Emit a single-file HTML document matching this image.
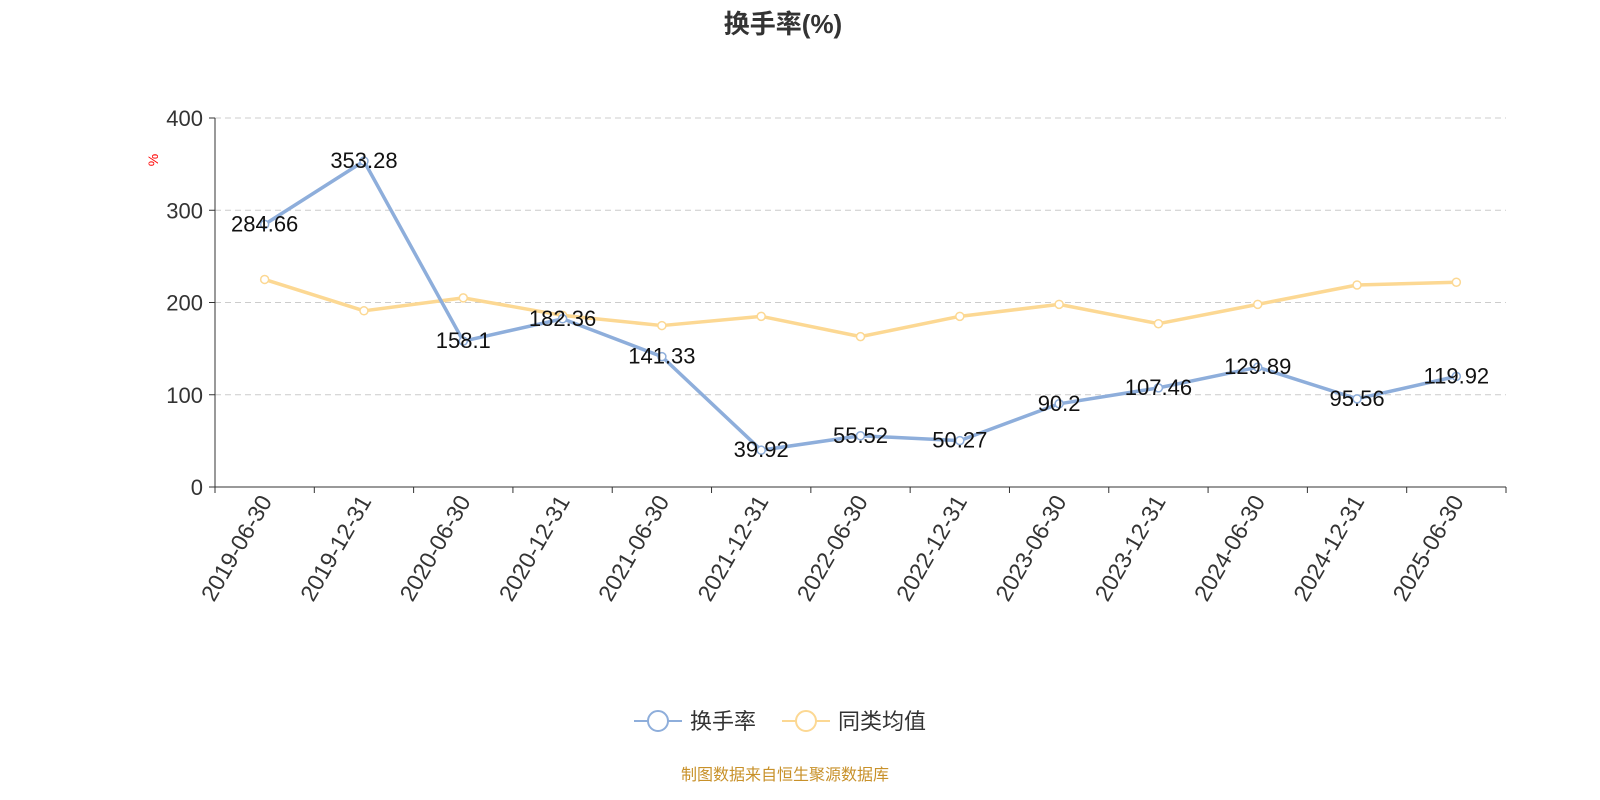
<!DOCTYPE html>
<html><head><meta charset="utf-8"><style>
body{margin:0;background:#fff;font-family:"Liberation Sans","Noto Sans CJK SC",sans-serif;}
</style></head><body>
<svg id="chart" width="1600" height="800" xmlns="http://www.w3.org/2000/svg" style="display:block">
<text x="783" y="33" text-anchor="middle" font-size="26" font-weight="bold" fill="#333" font-family="Liberation Sans,Noto Sans CJK SC,sans-serif">换手率(%)</text>
<text transform="translate(158,160) rotate(-90)" text-anchor="middle" font-size="14" fill="red">%</text>
<g id="grid"></g><g id="axes"></g><g id="series"></g>
<g>
<g>
<line x1="634" y1="721" x2="682" y2="721" stroke="#8eaedb" stroke-width="2"/>
<circle cx="658" cy="721" r="10" fill="#fff" stroke="#8eaedb" stroke-width="2"/>
<text x="690" y="729" font-size="22" fill="#333">换手率</text></g>
<g>
<line x1="782" y1="721" x2="830" y2="721" stroke="#fcd893" stroke-width="2"/>
<circle cx="806" cy="721" r="10" fill="#fff" stroke="#fcd893" stroke-width="2"/>
<text x="838" y="729" font-size="22" fill="#333">同类均值</text></g>
</g>
<text x="785" y="780" text-anchor="middle" font-size="16" fill="#c8912a">制图数据来自恒生聚源数据库</text>
</svg>
<script>
const categories=["2019-06-30","2019-12-31","2020-06-30","2020-12-31","2021-06-30","2021-12-31","2022-06-30","2022-12-31","2023-06-30","2023-12-31","2024-06-30","2024-12-31","2025-06-30"];
const turnover=[284.66,353.28,158.1,182.36,141.33,39.92,55.52,50.27,90.2,107.46,129.89,95.56,119.92];
const peerAvg=[225,191,205,186,175,185,163,185,198,177,198,219,222];
const yTicks=[0,100,200,300,400];
const NS="http://www.w3.org/2000/svg";
const x0=215,x1=1506,y0=487,y1=118,yMax=400;
const bw=(x1-x0)/categories.length;
const xs=i=>x0+bw*(i+0.5);
const ys=v=>y0-(v/yMax)*(y0-y1);
function mk(tag,attrs,parent,txt){const e=document.createElementNS(NS,tag);for(const k in attrs)e.setAttribute(k,attrs[k]);if(txt!==undefined)e.textContent=txt;parent.appendChild(e);return e;}
const grid=document.getElementById('grid'),axes=document.getElementById('axes'),ser=document.getElementById('series');
yTicks.forEach(t=>{
  if(t>0){const g=mk('line',{x1:x0,x2:x1,y1:ys(t),y2:ys(t),stroke:'#ccc','stroke-dasharray':'6,4'},grid);
  }
  const tl=mk('line',{x1:x0-6,x2:x0,y1:ys(t),y2:ys(t),stroke:'#333'},axes);
  
  const lb=mk('text',{x:x0-12,y:ys(t)+8,'text-anchor':'end','font-size':'22',fill:'#333'},axes,String(t));
  
});
let a=mk('line',{x1:x0,x2:x0,y1:y1,y2:y0,stroke:'#333'},axes);

a=mk('line',{x1:x0,x2:x1,y1:y0,y2:y0,stroke:'#333'},axes);

for(let i=0;i<=categories.length;i++){
  const t=mk('line',{x1:x0+bw*i,x2:x0+bw*i,y1:y0,y2:y0+6,stroke:'#333'},axes);
  
}
categories.forEach((c,i)=>{
  const t=mk('text',{transform:`translate(${xs(i)+8},${y0+14}) rotate(-60)`,'text-anchor':'end','font-size':'23',fill:'#333'},axes,c);
  
});
function series(vals,color,name){
  const p=mk('polyline',{points:vals.map((v,i)=>xs(i)+','+ys(v)).join(' '),fill:'none',stroke:color,'stroke-width':3.5,'stroke-linejoin':'round'},ser);
  
  vals.forEach((v,i)=>{
    const c=mk('circle',{cx:xs(i),cy:ys(v),r:4,fill:'#fff',stroke:color,'stroke-width':1.5},ser);
    
  });
}
series(peerAvg,'#fcd893','peer-average');
series(turnover,'#8eaedb','turnover');
turnover.forEach((v,i)=>{
  const t=mk('text',{x:xs(i),y:ys(v)+7,'text-anchor':'middle','font-size':'22',fill:'#111'},ser,String(v));
  
});
</script>
</body></html>
